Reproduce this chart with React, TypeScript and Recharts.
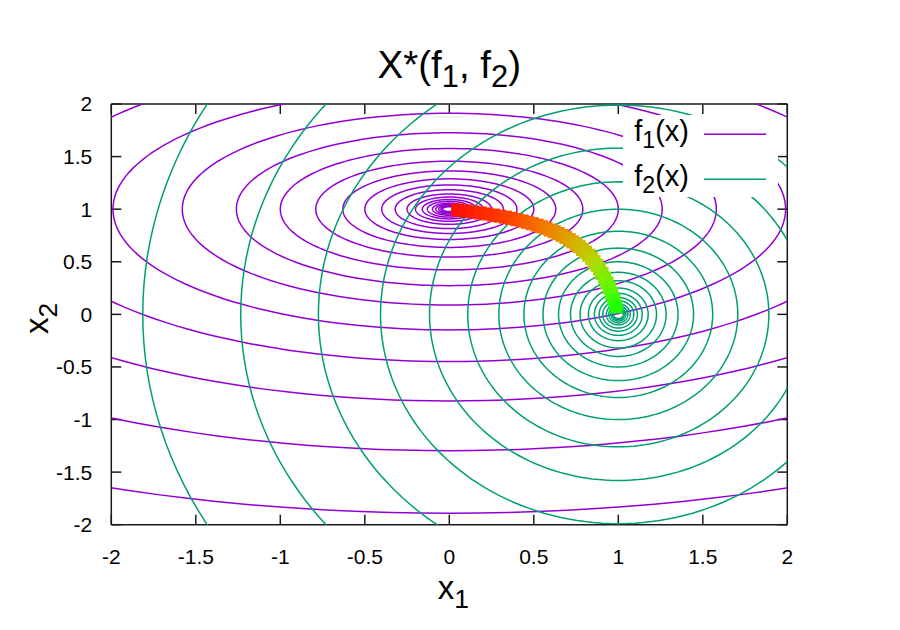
import React from 'react';
import { ScatterChart, Scatter, XAxis, YAxis, Legend, Label } from 'recharts';

// ---------------- data ----------------
const axisTicks = [-2, -1.5, -1, -0.5, 0, 0.5, 1, 1.5, 2];

// f1(x): contour ellipses around the f1 minimum, listed by their x1 semi-axis
const f1Minimum = [0, 1];
const f1SemiAxisX1 = [5.01, 3.98, 3.16, 2.51, 1.99, 1.58, 1.26, 1.0, 0.79, 0.63, 0.5, 0.4, 0.32, 0.25, 0.2, 0.16, 0.13, 0.1, 0.08, 0.063, 0.05, 0.04];
const f1AxisRatio = 0.577; // x2 semi-axis / x1 semi-axis

// f2(x): contour ellipses around the f2 minimum, listed by their x2 semi-axis
const f2Minimum = [1, 0];
const f2SemiAxisX2 = [3.98, 3.16, 2.51, 1.99, 1.58, 1.26, 1.0, 0.79, 0.63, 0.5, 0.4, 0.32, 0.25, 0.2, 0.16, 0.13, 0.1, 0.08, 0.063, 0.05, 0.04];
const f2AxisRatio = 0.707; // x1 semi-axis / x2 semi-axis

// Pareto set X*(f1, f2), from the f1 end to the f2 end
const paretoX1 = [0.049, 0.095, 0.14, 0.182, 0.222, 0.261, 0.298, 0.333, 0.367, 0.4, 0.431, 0.462, 0.491, 0.519, 0.545, 0.571, 0.597, 0.621, 0.644, 0.667, 0.689, 0.71, 0.73, 0.75, 0.769, 0.788, 0.806, 0.824, 0.841, 0.857, 0.873, 0.889, 0.904, 0.919, 0.933, 0.947, 0.961, 0.974, 0.987];
const paretoX2 = [0.992, 0.983, 0.974, 0.964, 0.955, 0.944, 0.934, 0.923, 0.912, 0.9, 0.888, 0.875, 0.862, 0.848, 0.833, 0.818, 0.802, 0.786, 0.768, 0.75, 0.731, 0.711, 0.689, 0.667, 0.643, 0.618, 0.591, 0.563, 0.532, 0.5, 0.466, 0.429, 0.389, 0.346, 0.3, 0.25, 0.196, 0.136, 0.071];

const paretoPalette = ['#ff1000', '#ff4000', '#f08000', '#d4b400', '#b4d800', '#60f800', '#20ff00'];
const paretoPaletteStops = [0, 0.2, 0.43, 0.63, 0.78, 0.94, 1];

const legendNames = ['f1(x)', 'f2(x)'];

// ---------------- styles ----------------
const FONT = '"Liberation Sans", Arial, Helvetica, sans-serif';
const PURPLE = '#9400d3';
const GREEN = '#009e73';
const BORDER = '#1a1a1a';
const SQUARE = 13;

const hexToRgb = (h: string) => [1, 3, 5].map((i) => parseInt(h.slice(i, i + 2), 16));
const paletteColor = (u: number) => {
  let k = 0;
  while (k < paretoPaletteStops.length - 2 && u > paretoPaletteStops[k + 1]) k++;
  const a = paretoPaletteStops[k];
  const b = paretoPaletteStops[k + 1];
  const f = Math.max(0, Math.min(1, (u - a) / (b - a)));
  const ca = hexToRgb(paretoPalette[k]);
  const cb = hexToRgb(paretoPalette[k + 1]);
  const c = ca.map((v, i) => Math.round(v + (cb[i] - v) * f));
  return `rgb(${c[0]},${c[1]},${c[2]})`;
};

// horizontal gradient under the squares: colour as a function of x1 along the set
const gradientStops = () => {
  const n = paretoX1.length;
  const lo = paretoX1[0];
  const hi = paretoX1[n - 1];
  return paretoX1.map((x, i) => ({ offset: (x - lo) / (hi - lo), color: paletteColor(i / (n - 1)) }));
};

const ellipse = (cx: number, cy: number, rx: number, ry: number) => {
  const n = 180;
  const pts: { x: number; y: number }[] = [];
  for (let i = 0; i <= n; i++) {
    const th = (i / n) * Math.PI * 2;
    pts.push({ x: cx + rx * Math.cos(th), y: cy + ry * Math.sin(th) });
  }
  return pts;
};

const NoDot = () => null;

const ParetoSquare = (props: any) => {
  const { cx, cy, payload } = props;
  if (cx == null || cy == null) return null;
  return <rect x={cx - SQUARE / 2} y={cy - SQUARE / 2} width={SQUARE} height={SQUARE} fill={payload?.color ?? props.fill} />;
};

const TitleLabel = (props: any) => {
  const vb = props.viewBox || { x: 111.3, y: 103, width: 676, height: 1 };
  const cx = vb.x + vb.width / 2;
  const top = vb.y + (vb.height || 0);
  return (
    <text x={cx} y={top - 26} textAnchor="middle" fontSize={38.5} fontFamily={FONT} fill="#000">
      X*(f<tspan fontSize={30.8} dy={9}>1</tspan>
      <tspan dy={-9}>, f</tspan>
      <tspan fontSize={30.8} dy={9}>2</tspan>
      <tspan dy={-9}>)</tspan>
    </text>
  );
};

const XLabel = (props: any) => {
  const vb = props.viewBox || { x: 111.3, y: 524.7, width: 676 };
  const cx = vb.x + vb.width / 2 + 4;
  return (
    <text x={cx} y={vb.y + 74} textAnchor="middle" fontSize={33} fontFamily={FONT} fill="#000">
      x<tspan fontSize={26.4} dy={9}>1</tspan>
    </text>
  );
};

const YLabel = (props: any) => {
  const vb = props.viewBox || { x: 11.3, y: 104, width: 100, height: 420.7 };
  const x = vb.x + vb.width - 63;
  const y = vb.y + vb.height / 2 + 4;
  return (
    <text x={x} y={y} transform={`rotate(-90 ${x} ${y})`} textAnchor="middle" fontSize={33} fontFamily={FONT} fill="#000">
      x<tspan fontSize={26.4} dy={9}>2</tspan>
    </text>
  );
};

const LegendBox = () => {
  const colors = [PURPLE, GREEN];
  return (
    <svg width={155} height={82} style={{ display: 'block', overflow: 'visible' }}>
      <rect x={0} y={0} width={155} height={82} fill="#fff" />
      {legendNames.map((name, i) => {
        const base = name.slice(0, 1);
        const sub = name.slice(1, 2);
        const rest = name.slice(2);
        return (
          <g key={name} transform={`translate(0 ${i * 45})`}>
            <text x={66} y={26} textAnchor="end" fontSize={29} fontFamily={FONT} fill="#000">
              {base}
              <tspan fontSize={23.2} dy={7}>{sub}</tspan>
              <tspan dy={-7}>{rest}</tspan>
            </text>
            <line x1={81} x2={143} y1={19.3} y2={19.3} stroke={colors[i]} strokeWidth={1.5} />
          </g>
        );
      })}
    </svg>
  );
};

export default function App() {
  const f1Rings = f1SemiAxisX1.map((a) => ellipse(f1Minimum[0], f1Minimum[1], a, a * f1AxisRatio));
  const f2Rings = f2SemiAxisX2.map((b) => ellipse(f2Minimum[0], f2Minimum[1], b * f2AxisRatio, b));
  const pareto = paretoX1.map((x, i) => ({
    x,
    y: paretoX2[i],
    color: paletteColor(i / (paretoX1.length - 1)),
  }));

  const tickStyle = { fontSize: 21, fill: '#000', fontFamily: FONT };
  const lineStyle = { stroke: BORDER, strokeWidth: 1.5 };
  const noTick = () => <g />;

  return (
    <div style={{ position: 'absolute', left: 0, top: 0, width: 900, height: 630, background: '#fff' }}>
      <svg width={0} height={0} style={{ position: 'absolute' }}>
        <defs>
          <linearGradient id="paretoGrad" x1="0" y1="0" x2="1" y2="0">
            {gradientStops().map((s, i) => (
              <stop key={i} offset={s.offset} stopColor={s.color} />
            ))}
          </linearGradient>
        </defs>
      </svg>
      <ScatterChart width={900} height={630} margin={{ top: 103, right: 111.7, bottom: 45.3, left: 11.3 }}>
        <XAxis
          dataKey="x"
          type="number"
          domain={[-2, 2]}
          ticks={axisTicks}
          interval={0}
          allowDataOverflow
          height={60}
          tickSize={-10}
          tickMargin={34}
          tick={tickStyle}
          axisLine={lineStyle}
          tickLine={lineStyle}
        >
          <Label content={XLabel} />
        </XAxis>
        <XAxis
          xAxisId="top"
          orientation="top"
          dataKey="x"
          type="number"
          domain={[-2, 2]}
          ticks={axisTicks}
          interval={0}
          allowDataOverflow
          height={1}
          tickSize={-10}
          tick={noTick}
          axisLine={lineStyle}
          tickLine={lineStyle}
        >
          <Label content={TitleLabel} />
        </XAxis>
        <YAxis
          dataKey="y"
          type="number"
          domain={[-2, 2]}
          ticks={axisTicks}
          interval={0}
          allowDataOverflow
          width={100}
          tickSize={-10}
          tickMargin={29}
          tick={tickStyle}
          axisLine={lineStyle}
          tickLine={lineStyle}
        >
          <Label content={YLabel} />
        </YAxis>
        <YAxis
          yAxisId="right"
          orientation="right"
          dataKey="y"
          type="number"
          domain={[-2, 2]}
          ticks={axisTicks}
          interval={0}
          allowDataOverflow
          width={1}
          tickSize={-10}
          tick={noTick}
          axisLine={lineStyle}
          tickLine={lineStyle}
        />
        {f1Rings.map((pts, i) => (
          <Scatter
            key={'f1-' + i}
            name={legendNames[0]}
            data={pts}
            fill={PURPLE}
            line={{ stroke: PURPLE, strokeWidth: 1.5 }}
            shape={NoDot}
            legendType={i === 0 ? 'line' : 'none'}
            isAnimationActive={false}
          />
        ))}
        {f2Rings.map((pts, i) => (
          <Scatter
            key={'f2-' + i}
            name={legendNames[1]}
            data={pts}
            fill={GREEN}
            line={{ stroke: GREEN, strokeWidth: 1.5 }}
            shape={NoDot}
            legendType={i === 0 ? 'line' : 'none'}
            isAnimationActive={false}
          />
        ))}
        <Scatter
          name="X*"
          data={pareto}
          xAxisId="top"
          yAxisId="right"
          fill="#ff0000"
          line={{ stroke: 'url(#paretoGrad)', strokeWidth: 12, strokeLinejoin: 'round' }}
          shape={ParetoSquare}
          legendType="none"
          isAnimationActive={false}
        />
        <Legend
          layout="vertical"
          align="center"
          verticalAlign="middle"
          content={LegendBox}
          wrapperStyle={{ left: 623, top: 115, width: 155, height: 82, margin: 0, padding: 0 }}
        />
      </ScatterChart>
    </div>
  );
}
